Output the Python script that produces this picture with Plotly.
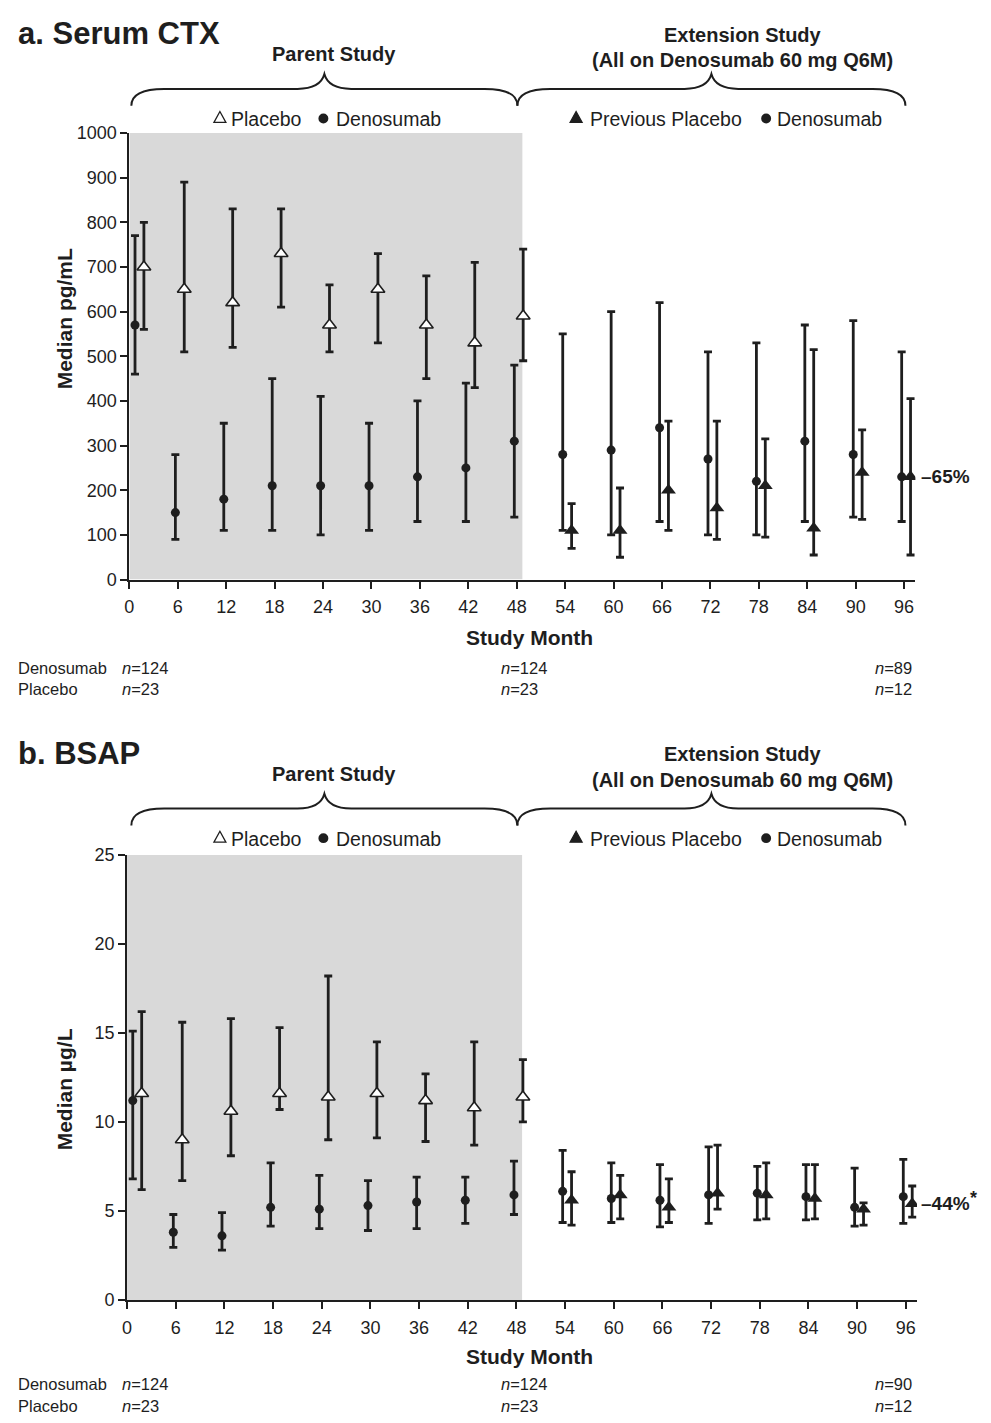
import plotly.graph_objects as go

W, H = 991, 1423

# ---------------- data ----------------
months_parent = [0, 6, 12, 18, 24, 30, 36, 42, 48]
months_ext = [54, 60, 66, 72, 78, 84, 90, 96]
x_ticks = list(range(0, 97, 6))

# Panel a: Serum CTX (median pg/mL, with interquartile range)
ctx_pbo_med = [700, 650, 620, 730, 570, 650, 570, 530, 590]
ctx_pbo_lo = [560, 510, 520, 610, 510, 530, 450, 430, 490]
ctx_pbo_hi = [800, 890, 830, 830, 660, 730, 680, 710, 740]
ctx_dmab_med = [570, 150, 180, 210, 210, 210, 230, 250, 310]
ctx_dmab_lo = [460, 90, 110, 110, 100, 110, 130, 130, 140]
ctx_dmab_hi = [770, 280, 350, 450, 410, 350, 400, 440, 480]
ctx_ext_dmab_med = [280, 290, 340, 270, 220, 310, 280, 230]
ctx_ext_dmab_lo = [110, 100, 130, 100, 100, 130, 140, 130]
ctx_ext_dmab_hi = [550, 600, 620, 510, 530, 570, 580, 510]
ctx_ext_prev_med = [110, 110, 200, 160, 210, 115, 240, 230]
ctx_ext_prev_lo = [70, 50, 110, 90, 95, 55, 135, 55]
ctx_ext_prev_hi = [170, 205, 355, 355, 315, 515, 335, 405]
ctx_yticks = list(range(0, 1001, 100))

# Panel b: BSAP (median ug/L)
bsap_pbo_med = [11.6, 9.0, 10.6, 11.6, 11.4, 11.6, 11.2, 10.8, 11.4]
bsap_pbo_lo = [6.2, 6.7, 8.1, 10.7, 9.0, 9.1, 8.9, 8.7, 10.0]
bsap_pbo_hi = [16.2, 15.6, 15.8, 15.3, 18.2, 14.5, 12.7, 14.5, 13.5]
bsap_dmab_med = [11.2, 3.8, 3.6, 5.2, 5.1, 5.3, 5.5, 5.6, 5.9]
bsap_dmab_lo = [6.8, 2.95, 2.8, 4.15, 4.0, 3.9, 4.0, 4.3, 4.8]
bsap_dmab_hi = [15.1, 4.8, 4.9, 7.7, 7.0, 6.7, 6.9, 6.9, 7.8]
bsap_ext_dmab_med = [6.1, 5.7, 5.6, 5.9, 6.0, 5.8, 5.2, 5.8]
bsap_ext_dmab_lo = [4.35, 4.35, 4.1, 4.3, 4.5, 4.5, 4.15, 4.3]
bsap_ext_dmab_hi = [8.4, 7.7, 7.6, 8.6, 7.5, 7.6, 7.4, 7.9]
bsap_ext_prev_med = [5.6, 5.9, 5.2, 6.0, 5.9, 5.7, 5.1, 5.4]
bsap_ext_prev_lo = [4.2, 4.55, 4.35, 5.1, 4.55, 4.55, 4.2, 4.65]
bsap_ext_prev_hi = [7.2, 7.0, 6.8, 8.7, 7.7, 7.6, 5.45, 6.4]
bsap_yticks = list(range(0, 26, 5))

n_labels_a = [["124", "124", "89"], ["23", "23", "12"]]
n_labels_b = [["124", "124", "90"], ["23", "23", "12"]]

# ---------------- style ----------------
FONT = "Liberation Sans, Arial, Helvetica, sans-serif"
INK = "#1e1e1e"
GRAY = "#d9d9d9"
DODGE_DMAB = -0.3
DODGE_OTHER = 0.8
BASELINE_SHIFT = 1.0
PARENT_END = 48.7


def px(x):
    return x / W


def py(y):
    return 1 - y / H


def dodge(months, off):
    return [m + off + (BASELINE_SHIFT if m == 0 else 0) for m in months]


def err(med, lo, hi):
    return dict(type="data", symmetric=False,
                array=[h - m for m, h in zip(med, hi)],
                arrayminus=[m - l for m, l in zip(med, lo)],
                color=INK, thickness=2.8, width=4)


fig = go.Figure()

panels = [
    dict(xa="x", ya="y", dy=0, dn=0, title="a. Serum CTX", ytitle="Median pg/mL",
         ytitle_y=313,
         ymax=1000, yticks=ctx_yticks,
         pbo=(ctx_pbo_med, ctx_pbo_lo, ctx_pbo_hi),
         dmab=(ctx_dmab_med, ctx_dmab_lo, ctx_dmab_hi),
         edmab=(ctx_ext_dmab_med, ctx_ext_dmab_lo, ctx_ext_dmab_hi),
         eprev=(ctx_ext_prev_med, ctx_ext_prev_lo, ctx_ext_prev_hi),
         pct="–65%", star=False, nlab=n_labels_a,
         xdom=(125, 915), ydom=(577.7, 124.7)),
    dict(xa="x2", ya="y2", dy=730, dn=727, title="b. BSAP", ytitle="Median µg/L",
         ytitle_y=1095,
         ymax=25, yticks=bsap_yticks,
         pbo=(bsap_pbo_med, bsap_pbo_lo, bsap_pbo_hi),
         dmab=(bsap_dmab_med, bsap_dmab_lo, bsap_dmab_hi),
         edmab=(bsap_ext_dmab_med, bsap_ext_dmab_lo, bsap_ext_dmab_hi),
         eprev=(bsap_ext_prev_med, bsap_ext_prev_lo, bsap_ext_prev_hi),
         pct="–44%", star=True, nlab=n_labels_b,
         xdom=(122.7, 916.7), ydom=(1308.3, 857)),
]

annotations = []
shapes = []
layout_axes = {}


def ann(text, x, y, size, xanchor="center", yanchor="middle", bold=False,
        textangle=0):
    t = f"<b>{text}</b>" if bold else text
    annotations.append(dict(text=t, x=px(x), y=py(y), xref="paper", yref="paper",
                            xanchor=xanchor, yanchor=yanchor, showarrow=False,
                            textangle=textangle, borderpad=0,
                            font=dict(family=FONT, size=size, color=INK)))


def brace(x0, x1, xc, dy):
    ytop, ymid, yend = 65 + dy, 80 + dy, 97 + dy
    pts = [
        ("M", [(x0, yend)]),
        ("Q", [(x0, ymid), (x0 + 33, ymid)]),
        ("L", [(xc - 27, ymid)]),
        ("Q", [(xc - 4, ymid), (xc, ytop)]),
        ("Q", [(xc + 4, ymid), (xc + 27, ymid)]),
        ("L", [(x1 - 33, ymid)]),
        ("Q", [(x1, ymid), (x1, yend)]),
    ]
    s = ""
    for cmd, ps in pts:
        s += cmd + " " + " ".join(f"{px(a):.5f},{py(b):.5f}" for a, b in ps) + " "
    shapes.append(dict(type="path", path=s.strip(), xref="paper", yref="paper",
                       line=dict(color=INK, width=2)))


def tri(cx, cy, filled):
    path = (f"M {px(cx-6):.5f},{py(cy+5):.5f} L {px(cx+6):.5f},{py(cy+5):.5f} "
            f"L {px(cx):.5f},{py(cy-6):.5f} Z")
    shapes.append(dict(type="path", path=path, xref="paper", yref="paper",
                       fillcolor=INK if filled else "white",
                       line=dict(color=INK, width=1.3)))


def dot(cx, cy):
    shapes.append(dict(type="circle", xref="paper", yref="paper",
                       x0=px(cx - 5), x1=px(cx + 5), y0=py(cy + 5), y1=py(cy - 5),
                       fillcolor=INK, line=dict(width=0)))


for i, p in enumerate(panels):
    xa, ya, dy, dn = p["xa"], p["ya"], p["dy"], p["dn"]
    traces = [
        (dodge(months_parent, DODGE_DMAB), p["dmab"], dict(symbol="circle", size=9, color=INK)),
        (dodge(months_parent, DODGE_OTHER), p["pbo"],
         dict(symbol="triangle-up", size=12, color="white", line=dict(color=INK, width=1.6))),
        (dodge(months_ext, DODGE_DMAB), p["edmab"], dict(symbol="circle", size=9, color=INK)),
        (dodge(months_ext, DODGE_OTHER), p["eprev"], dict(symbol="triangle-up", size=13, color=INK)),
    ]
    for xs, (med, lo, hi), mk in traces:
        fig.add_trace(go.Scatter(x=xs, y=med, mode="markers", marker=mk,
                                 error_y=err(med, lo, hi), xaxis=xa, yaxis=ya,
                                 showlegend=False, hoverinfo="skip"))
    shapes.append(dict(type="rect", xref=xa, yref=ya, x0=0, x1=PARENT_END, y0=0,
                       y1=p["ymax"], fillcolor=GRAY, line=dict(width=0), layer="below"))
    suffix = "" if i == 0 else "2"
    layout_axes["xaxis" + suffix] = dict(
        domain=[px(p["xdom"][0]), px(p["xdom"][1])], anchor=ya, range=[0, 97.4],
        tickvals=x_ticks, ticktext=[str(t) for t in x_ticks],
        showline=True, linecolor=INK, linewidth=2, ticks="outside", ticklen=7,
        tickwidth=2, tickcolor=INK, showgrid=False, zeroline=False,
        tickfont=dict(family=FONT, size=18, color=INK), ticklabelstandoff=3)
    layout_axes["yaxis" + suffix] = dict(
        domain=[py(p["ydom"][0]), py(p["ydom"][1])], anchor=xa, range=[0, p["ymax"]],
        tickvals=p["yticks"], showline=True, linecolor=INK, linewidth=2,
        ticks="outside", ticklen=7, tickwidth=2, tickcolor=INK, showgrid=False,
        zeroline=False, tickfont=dict(family=FONT, size=18, color=INK))

    ann(p["title"], 12, 24 + dy, 31, xanchor="left", bold=True)
    ann("Parent Study", 331, 45 + dy, 20, bold=True)
    ann("Extension Study", 742, 25 + dy, 20, bold=True)
    ann("(All on Denosumab 60 mg Q6M)", 741, 51 + dy, 20, bold=True)
    brace(127, 515, 321, dy)
    brace(515, 905, 710, dy)

    ann("Placebo", 226, 111 + dy, 19.5, xanchor="left")
    ann("Denosumab", 332, 111 + dy, 19.5, xanchor="left")
    ann("Previous Placebo", 587, 111 + dy, 19.5, xanchor="left")
    ann("Denosumab", 775, 111 + dy, 19.5, xanchor="left")
    tri(216, 109 + dy, False)
    dot(320, 110 + dy)
    tri(574, 109 + dy, True)
    dot(765, 110 + dy)

    ann("Study Month", 527, 636 + dy, 21, bold=True)
    ann(p["ytitle"], 60, p["ytitle_y"], 21, bold=True, textangle=-90)

    annotations.append(dict(text=f"<b>{p['pct']}</b>", x=px(920), y=p["eprev"][0][-1],
                            xref="paper", yref=ya, xanchor="left", yanchor="middle",
                            showarrow=False, borderpad=0,
                            font=dict(family=FONT, size=19, color=INK)))
    if p["star"]:
        annotations.append(dict(text="<b>*</b>", x=px(969), y=p["eprev"][0][-1],
                                xref="paper", yref=ya, xanchor="left", yanchor="middle",
                                yshift=6, showarrow=False, borderpad=0,
                                font=dict(family=FONT, size=18, color=INK)))

    ann("Denosumab", 12, 667 + dn, 16.5, xanchor="left")
    ann("Placebo", 12, 689 + dn, 16.5, xanchor="left")
    for col, xx in enumerate([117, 498, 873]):
        ann(f"<i>n</i>={p['nlab'][0][col]}", xx, 667 + dn, 16.5, xanchor="left")
        ann(f"<i>n</i>={p['nlab'][1][col]}", xx, 689 + dn, 16.5, xanchor="left")

fig.update_layout(
    width=W, height=H, autosize=False,
    margin=dict(l=0, r=0, t=0, b=0),
    paper_bgcolor="white", plot_bgcolor="rgba(0,0,0,0)",
    showlegend=False, annotations=annotations, shapes=shapes,
    font=dict(family=FONT, color=INK),
    **layout_axes,
)

fig.write_html("out.html", config={"displayModeBar": False},
               post_script="document.body.style.margin='0';"
                           "document.body.style.overflow='hidden';")
